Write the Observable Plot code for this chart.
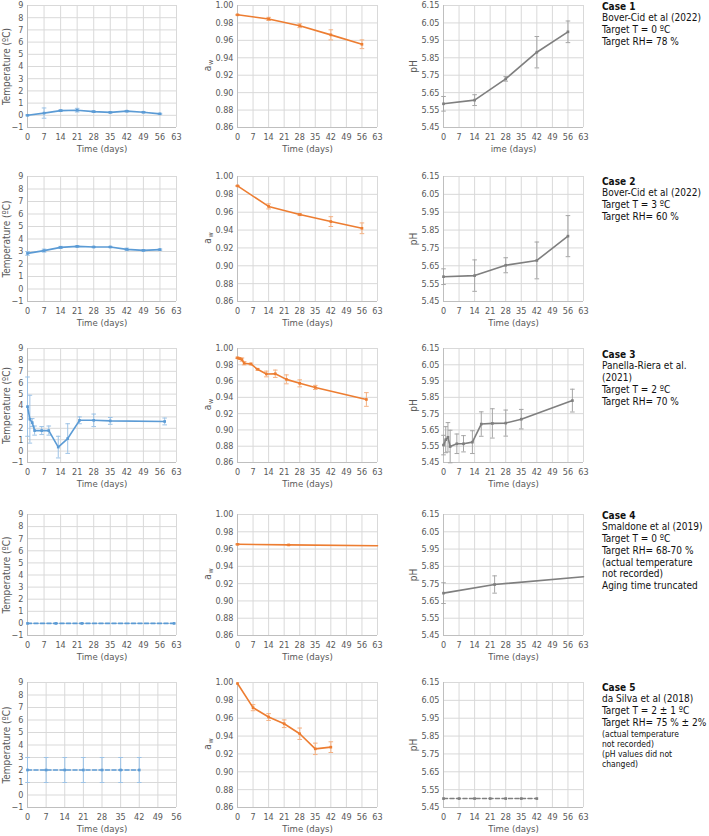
<!DOCTYPE html>
<html><head><meta charset="utf-8">
<script src="https://cdn.jsdelivr.net/npm/d3@7"></script>
<script src="https://cdn.jsdelivr.net/npm/@observablehq/plot@0.6"></script>
<style>
body{margin:0;background:#fff;}
#fig{position:relative;width:709px;height:836px;overflow:hidden;background:#fff;font-family:"DejaVu Sans Condensed","DejaVu Sans",sans-serif;}
.panel{position:absolute;}
.panel svg{overflow:visible;}
.case{position:absolute;font-size:10px;line-height:11.8px;color:#111;white-space:nowrap;}
.case b{font-weight:bold;}
.case .sm{font-size:8.5px;line-height:10px;}
</style></head><body><div id="fig"></div>
<script>
// ---------- tick labels ----------
const dayTicks63 = [0,7,14,21,28,35,42,49,56,63];
const dayTicks56 = [0,7,14,21,28,35,42,49,56];
const tempTicks = [-1,0,1,2,3,4,5,6,7,8,9];
const awTicks = [0.86,0.88,0.90,0.92,0.94,0.96,0.98,1.00];
const phTicks = [5.45,5.55,5.65,5.75,5.85,5.95,6.05,6.15];

// ---------- Case 1: Bover-Cid et al (2022), T=0 ----------
const c1TempT = [0,7,14,21,28,35,42,49,56];
const c1TempV = [0.0,0.18,0.38,0.42,0.30,0.24,0.34,0.25,0.12];
const c1TempE = [0.04,0.42,0.07,0.15,0.06,0.05,0.05,0.05,0.04];
const c1AwT = [0,14,28,42,56];
const c1AwV = [0.9893,0.9846,0.9768,0.9663,0.9555];
const c1AwE = [0.0005,0.0018,0.0022,0.0058,0.0050];
const c1PhT = [0,14,28,42,56];
const c1PhV = [5.586,5.607,5.729,5.882,5.999];
const c1PhE = [0.042,0.031,0.013,0.090,0.062];

// ---------- Case 2: Bover-Cid et al (2022), T=3 ----------
const c2TempT = [0,7,14,21,28,35,42,49,56];
const c2TempV = [2.85,3.07,3.33,3.41,3.36,3.36,3.17,3.09,3.15];
const c2TempE = [0.15,0.12,0.08,0.05,0.05,0.05,0.10,0.05,0.05];
const c2AwT = [0,14,28,42,56];
const c2AwV = [0.9895,0.9665,0.9574,0.9495,0.9420];
const c2AwE = [0.0005,0.0028,0.0012,0.0055,0.0060];
const c2PhT = [0,14,28,42,56];
const c2PhV = [5.589,5.595,5.653,5.680,5.816];
const c2PhE = [0.044,0.088,0.042,0.103,0.115];

// ---------- Case 3: Panella-Riera et al. (2021) ----------
const c3TempT = [0,1,2,3,6,9,13,17,22,28,35,58];
const c3TempV = [3.9,2.8,2.5,1.8,1.8,1.8,0.35,1.1,2.7,2.7,2.65,2.6];
const c3TempE = [2.6,2.1,0.35,0.4,0.35,0.4,0.95,1.3,0.3,0.55,0.3,0.3];
const c3AwT = [0,1,2,3,6,9,13,17,22,28,35,58];
const c3AwV = [0.9885,0.9876,0.9864,0.9819,0.9810,0.9745,0.9687,0.9690,0.9621,0.9572,0.9522,0.9374];
const c3AwE = [0.0008,0.0010,0.0020,0.0020,0.0010,0.0010,0.0035,0.0045,0.0055,0.0043,0.0025,0.0084];
const c3PhT = [0,1,2,3,6,9,13,17,22,28,35,58];
const c3PhV = [5.557,5.590,5.605,5.548,5.565,5.565,5.575,5.686,5.690,5.692,5.716,5.830];
const c3PhE = [0.060,0.080,0.090,0.100,0.060,0.050,0.070,0.075,0.090,0.080,0.060,0.070];

// ---------- Case 4: Smaldone et al (2019) ----------
const c4TempT = [0,12,23,62];
const c4TempV = [0,0,0,0];
const c4AwT = [0,23,63];
const c4AwV = [0.9655,0.9648,0.9638];
const c4AwE = [0.0005,0.0003,0];
const c4AwMark = [1,1,0];
const c4PhT = [0,23,63];
const c4PhV = [5.695,5.745,5.790];
const c4PhE = [0.060,0.050,0];
const c4PhMark = [1,1,0];

// ---------- Case 5: da Silva et al (2018) ----------
const c5TempT = [0,7,14,21,28,35,42];
const c5TempV = [2,2,2,2,2,2,2];
const c5TempE = [1,1,1,1,1,1,1];
const c5AwT = [0,7,14,21,28,35,42];
const c5AwV = [0.9989,0.9718,0.9613,0.9538,0.9426,0.9257,0.9276];
const c5AwE = [0,0.0034,0.0038,0.0043,0.0064,0.0064,0.0060];
const c5PhT = [0,7,14,21,28,35,42];
const c5PhV = [5.50,5.50,5.50,5.50,5.50,5.50,5.50];

// ---------- annotation texts ----------
const case1Text = ["Case 1","Bover-Cid et al (2022)","Target T = 0 ºC","Target RH= 78 %"];
const case2Text = ["Case 2","Bover-Cid et al (2022)","Target T = 3 ºC","Target RH= 60 %"];
const case3Text = ["Case 3","Panella-Riera  et al.","(2021)","Target T = 2 ºC","Target RH= 70 %"];
const case4Text = ["Case 4","Smaldone et al (2019)","Target T = 0 ºC","Target RH= 68-70 %","(actual temperature","not recorded)","Aging time truncated"];
const case5Text = ["Case 5","da Silva et al (2018)","Target T = 2 ± 1 ºC","Target RH= 75 % ± 2%"];
const case5Small = ["(actual temperature","not recorded)","(pH values did not","changed)"];

// ---------- styling / layout ----------
const FONT = '"DejaVu Sans Condensed","DejaVu Sans",sans-serif';
const BLUE="#5b9bd5", BLUE_E="#9dc3e6", ORANGE="#ed7d31", ORANGE_E="#f4b183", GRAY="#7f7f7f", GRAY_E="#a6a6a6";
const rows = [{top:5,bottom:127},{top:176,bottom:301},{top:348,bottom:462},{top:514,bottom:635},{top:682,bottom:807}];
const cols = [{left:26.5,right:175.5},{left:237,right:377},{left:443,right:583}];
const kinds = {
  temp:{domain:[-1,9], ticks:tempTicks, fmt:d3.format("d"), title:"Temperature (ºC)", titleDx:-20.5},
  aw:{domain:[0.86,1.0], ticks:awTicks, fmt:d3.format(".2f")},
  ph:{domain:[5.45,6.15], ticks:phTicks, fmt:d3.format(".2f"), title:"pH", titleDx:-30}
};
const cap = {draw(ctx, size){ const r = Math.sqrt(size/Math.PI); ctx.moveTo(-r,0); ctx.lineTo(r,0); }};

const fig = document.getElementById("fig");

function panel({row, col, kind, xMax=63, t, v, e, m, color, ecolor, dashed=false, xLabel="Time (days)"}) {
  const R = rows[row], C = cols[col], K = kinds[kind];
  const mL = 42, mR = 10, mT = 8, mB = 34;
  const w = C.right - C.left, h = R.bottom - R.top;
  const xTicks = xMax === 56 ? dayTicks56 : dayTicks63;
  const data = t.map((tt,i)=>({t:tt, v:v[i], e:e ? e[i] : 0, m:m ? m[i] : 1}));
  const eb = data.filter(d=>d.e>0);
  const marks = [
    Plot.gridX(xTicks, {stroke:"#d9d9d9", strokeOpacity:1}),
    Plot.gridY(K.ticks, {stroke:"#d9d9d9", strokeOpacity:1}),
    Plot.ruleX([0], {stroke:"#bfbfbf"}),
    Plot.ruleY([K.domain[0]], {stroke:"#bfbfbf"}),
    Plot.axisX(xTicks, {tickSize:0, tickPadding:6, label:null, color:"#595959"}),
    Plot.axisY(K.ticks, {tickSize:0, tickPadding:4, label:null, tickFormat:K.fmt, color:"#595959"}),
    Plot.ruleX(eb, {x:"t", y1:d=>d.v-d.e, y2:d=>d.v+d.e, stroke:ecolor, strokeWidth:1}),
    Plot.dot(eb, {x:"t", y:d=>d.v+d.e, symbol:cap, r:2.3, stroke:ecolor, fill:"none", strokeWidth:1}),
    Plot.dot(eb, {x:"t", y:d=>d.v-d.e, symbol:cap, r:2.3, stroke:ecolor, fill:"none", strokeWidth:1}),
    Plot.line(data, {x:"t", y:"v", stroke:color, strokeWidth:1.6, strokeDasharray: dashed ? "4,2.5" : null}),
    Plot.dot(data.filter(d=>d.m), {x:"t", y:"v", symbol:"square", r:1.5, fill:color}),
    Plot.text([xLabel], {frameAnchor:"bottom", dy:24, text:d=>d, fill:"#595959", fontSize:9.5})
  ];
  if (kind === "aw") {
    marks.push(Plot.text(["a"], {frameAnchor:"left", dx:-30, dy:2, rotate:-90, textAnchor:"middle", lineAnchor:"middle", text:d=>d, fill:"#595959", fontSize:10}));
    marks.push(Plot.text(["w"], {frameAnchor:"left", dx:-27, dy:-4, rotate:-90, textAnchor:"middle", lineAnchor:"middle", text:d=>d, fill:"#595959", fontSize:7}));
  } else {
    marks.push(Plot.text([K.title], {frameAnchor:"left", dx:K.titleDx, rotate:-90, textAnchor:"middle", lineAnchor:"middle", text:d=>d, fill:"#595959", fontSize:10}));
  }
  const svg = Plot.plot({
    width: w + mL + mR, height: h + mT + mB,
    marginLeft: mL, marginRight: mR, marginTop: mT, marginBottom: mB,
    x: {domain:[0,xMax]},
    y: {domain:K.domain},
    style: {fontFamily: FONT, fontSize: "9px", background: "transparent", overflow: "visible"},
    marks
  });
  const div = document.createElement("div");
  div.className = "panel";
  div.style.left = (C.left - mL) + "px";
  div.style.top = (R.top - mT) + "px";
  div.appendChild(svg);
  fig.appendChild(div);
}

function caseText(lines, top, small=[]) {
  const div = document.createElement("div");
  div.className = "case";
  div.style.left = "602px";
  div.style.top = top + "px";
  lines.forEach((s,i)=>{
    const d = document.createElement("div");
    if (i === 0) { const b = document.createElement("b"); b.textContent = s; d.appendChild(b); }
    else d.textContent = s;
    div.appendChild(d);
  });
  small.forEach(s=>{ const d = document.createElement("div"); d.className = "sm"; d.textContent = s; div.appendChild(d); });
  fig.appendChild(div);
}

// Row 1
panel({row:0, col:0, kind:"temp", t:c1TempT, v:c1TempV, e:c1TempE, color:BLUE, ecolor:BLUE_E});
panel({row:0, col:1, kind:"aw", t:c1AwT, v:c1AwV, e:c1AwE, color:ORANGE, ecolor:ORANGE_E});
panel({row:0, col:2, kind:"ph", t:c1PhT, v:c1PhV, e:c1PhE, color:GRAY, ecolor:GRAY_E, xLabel:"ime (days)"});
// Row 2
panel({row:1, col:0, kind:"temp", t:c2TempT, v:c2TempV, e:c2TempE, color:BLUE, ecolor:BLUE_E});
panel({row:1, col:1, kind:"aw", t:c2AwT, v:c2AwV, e:c2AwE, color:ORANGE, ecolor:ORANGE_E});
panel({row:1, col:2, kind:"ph", t:c2PhT, v:c2PhV, e:c2PhE, color:GRAY, ecolor:GRAY_E});
// Row 3
panel({row:2, col:0, kind:"temp", t:c3TempT, v:c3TempV, e:c3TempE, color:BLUE, ecolor:BLUE_E});
panel({row:2, col:1, kind:"aw", t:c3AwT, v:c3AwV, e:c3AwE, color:ORANGE, ecolor:ORANGE_E});
panel({row:2, col:2, kind:"ph", t:c3PhT, v:c3PhV, e:c3PhE, color:GRAY, ecolor:GRAY_E});
// Row 4
panel({row:3, col:0, kind:"temp", t:c4TempT, v:c4TempV, color:BLUE, ecolor:BLUE_E, dashed:true});
panel({row:3, col:1, kind:"aw", t:c4AwT, v:c4AwV, e:c4AwE, m:c4AwMark, color:ORANGE, ecolor:ORANGE_E});
panel({row:3, col:2, kind:"ph", t:c4PhT, v:c4PhV, e:c4PhE, m:c4PhMark, color:GRAY, ecolor:GRAY_E});
// Row 5
panel({row:4, col:0, kind:"temp", xMax:56, t:c5TempT, v:c5TempV, e:c5TempE, color:BLUE, ecolor:BLUE_E, dashed:true});
panel({row:4, col:1, kind:"aw", t:c5AwT, v:c5AwV, e:c5AwE, color:ORANGE, ecolor:ORANGE_E});
panel({row:4, col:2, kind:"ph", t:c5PhT, v:c5PhV, color:GRAY, ecolor:GRAY_E, dashed:true});

caseText(case1Text, 0.5);
caseText(case2Text, 175.5);
caseText(case3Text, 348.5);
caseText(case4Text, 509.5);
caseText(case5Text, 681.5, case5Small);
</script></body></html>
